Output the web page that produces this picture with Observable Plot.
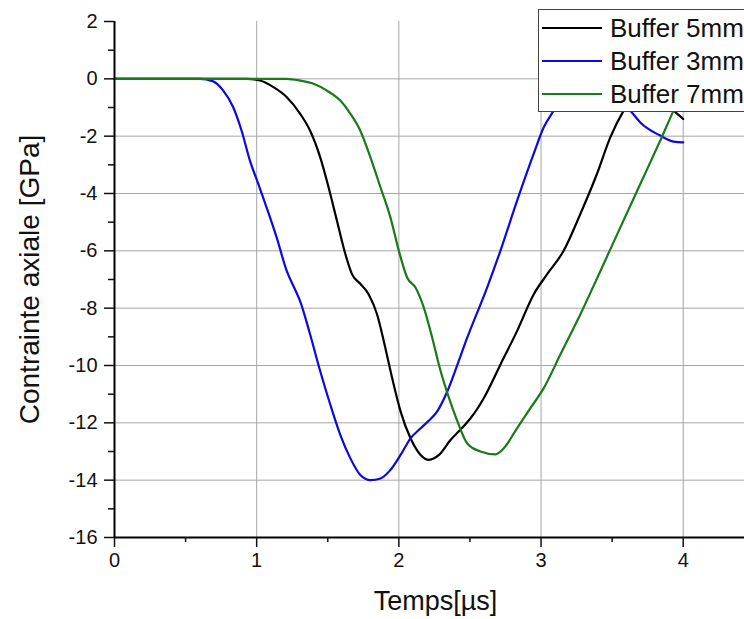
<!DOCTYPE html>
<html>
<head>
<meta charset="utf-8">
<script src="https://cdn.jsdelivr.net/npm/d3@7"></script>
<script src="https://cdn.jsdelivr.net/npm/@observablehq/plot@0.6"></script>
<style>
  html, body { margin: 0; padding: 0; background: white; overflow: hidden; }
  #wrap { position: relative; width: 744px; height: 619px; overflow: hidden; font-family: "Liberation Sans", Arial, sans-serif; }
  #legend { position: absolute; left: 538px; top: 9px; width: 260px; height: 103px; box-sizing: border-box; border: 1px solid #444; background: white; }
  .row { position: absolute; left: 0; height: 33px; display: flex; align-items: center; }
  .swatch { width: 60px; height: 2px; margin-left: 3px; }
  .lab { margin-left: 8px; font-size: 26px; color: #111; white-space: nowrap; }
</style>
</head>
<body>
<div id="wrap"></div>
<script>
// Tick values
const xTicks = [0, 1, 2, 3, 4];
const xMinor = [0.5, 1.5, 2.5, 3.5];
const yTicks = [-16, -14, -12, -10, -8, -6, -4, -2, 0, 2];
const yMinor = [-15, -13, -11, -9, -7, -5, -3, -1, 1];
const xGrid = [1, 2, 3, 4];
const yGrid = [-14, -12, -10, -8, -6, -4, -2, 0];

// Series names / colours
const seriesNames = ["Buffer 5mm", "Buffer 3mm", "Buffer 7mm"];
const seriesColors = ["#000000", "#0a0ae0", "#197a19"];

// Buffer 5mm (black)
const t5 = [0, 0.93, 1.024, 1.118, 1.212, 1.306, 1.376, 1.447, 1.506, 1.565, 1.624, 1.671, 1.729, 1.788, 1.847, 1.894, 1.953, 2.012, 2.082, 2.153, 2.212, 2.282, 2.363, 2.459, 2.504, 2.597, 2.714, 2.831, 2.948, 3.042, 3.159, 3.276, 3.393, 3.487, 3.581, 3.65, 3.75, 3.85, 3.932, 4.0];
const s5 = [0, 0, -0.06, -0.29, -0.64, -1.22, -1.81, -2.74, -3.79, -4.96, -6.12, -6.82, -7.15, -7.52, -8.22, -9.15, -10.44, -11.6, -12.54, -13.12, -13.29, -13.12, -12.6, -12.1, -11.84, -11.14, -9.97, -8.8, -7.52, -6.82, -6.0, -4.72, -3.32, -2.04, -1.11, -0.6, -0.55, -0.8, -1.11, -1.4];

// Buffer 3mm (blue)
const t3 = [0, 0.6, 0.69, 0.765, 0.835, 0.894, 0.953, 1.012, 1.07, 1.141, 1.212, 1.27, 1.306, 1.376, 1.447, 1.518, 1.588, 1.659, 1.729, 1.8, 1.871, 1.941, 2.012, 2.082, 2.153, 2.205, 2.27, 2.341, 2.412, 2.48, 2.62, 2.714, 2.831, 2.948, 3.019, 3.089, 3.2, 3.3, 3.42, 3.53, 3.628, 3.698, 3.838, 3.932, 4.0];
const s3 = [0, 0, -0.08, -0.41, -0.99, -1.81, -2.86, -3.67, -4.49, -5.54, -6.71, -7.35, -7.76, -8.92, -10.2, -11.37, -12.42, -13.24, -13.82, -14.0, -13.94, -13.64, -13.12, -12.54, -12.19, -11.95, -11.6, -10.9, -9.97, -9.04, -7.29, -6.0, -4.26, -2.62, -1.69, -1.11, -0.3, -0.05, -0.2, -0.65, -1.11, -1.52, -1.98, -2.19, -2.22];

// Buffer 7mm (green)
const t7 = [0, 1.21, 1.306, 1.4, 1.494, 1.588, 1.659, 1.729, 1.8, 1.871, 1.941, 2.0, 2.059, 2.118, 2.176, 2.235, 2.294, 2.353, 2.412, 2.48, 2.574, 2.679, 2.738, 2.831, 2.925, 3.019, 3.136, 3.276, 3.417, 3.557, 3.698, 3.838, 3.932, 4.0];
const s7 = [0, 0, -0.06, -0.17, -0.41, -0.76, -1.22, -1.81, -2.74, -3.79, -4.84, -6.0, -6.94, -7.29, -7.99, -9.04, -10.2, -11.14, -11.95, -12.71, -13.0, -13.1, -12.89, -12.19, -11.49, -10.79, -9.62, -8.22, -6.71, -5.19, -3.67, -2.16, -1.11, -0.4];

const toRows = (ts, ss) => ts.map((t, i) => ({t, s: ss[i]}));
const series = [toRows(t5, s5), toRows(t3, s3), toRows(t7, s7)];
const fmt = (d) => String(d);

const chart = Plot.plot({
  width: 744,
  height: 619,
  marginLeft: 114,
  marginRight: 0,
  marginTop: 21,
  marginBottom: 82,
  x: {domain: [0, 4.431]},
  y: {domain: [-16, 2]},
  style: {fontFamily: "'Liberation Sans', Arial, sans-serif", background: "white", color: "#111"},
  marks: [
    Plot.gridX(xGrid, {stroke: "#a6a6a6", strokeOpacity: 1, strokeWidth: 1}),
    Plot.gridY(yGrid, {stroke: "#a6a6a6", strokeOpacity: 1, strokeWidth: 1}),
    ...series.map((d, i) => Plot.line(d, {x: "t", y: "s", stroke: seriesColors[i], strokeWidth: 2.2, curve: "monotone-x"})),
    Plot.ruleX([0], {stroke: "#000", strokeWidth: 2}),
    Plot.ruleY([-16], {stroke: "#000", strokeWidth: 2}),
    Plot.axisY(yTicks, {tickSize: 10, tickPadding: 7, fontSize: 20, label: null, strokeWidth: 1.5, tickFormat: fmt}),
    Plot.axisY(yMinor, {tickSize: 6, tickFormat: () => "", label: null, strokeWidth: 1.5}),
    Plot.axisX(xTicks, {tickSize: 10, tickPadding: 5, fontSize: 20, label: null, strokeWidth: 1.5, tickFormat: fmt}),
    Plot.axisX(xMinor, {tickSize: 5, tickFormat: () => "", label: null, strokeWidth: 1.5}),
    Plot.text(["Contrainte axiale [GPa]"], {frameAnchor: "left", textAnchor: "middle", rotate: -90, dx: -84, fontSize: 28, fill: "#111"}),
    Plot.text(["Temps[µs]"], {frameAnchor: "bottom", textAnchor: "middle", dy: 72, dx: 6, fontSize: 27, fill: "#111"})
  ]
});

const wrap = document.getElementById("wrap");
wrap.appendChild(chart);

const legend = document.createElement("div");
legend.id = "legend";
seriesNames.forEach((name, i) => {
  const row = document.createElement("div");
  row.className = "row";
  row.style.top = (1.5 + i * 33) + "px";
  const sw = document.createElement("div");
  sw.className = "swatch";
  sw.style.background = seriesColors[i];
  const lab = document.createElement("span");
  lab.className = "lab";
  lab.textContent = name;
  row.appendChild(sw);
  row.appendChild(lab);
  legend.appendChild(row);
});
wrap.appendChild(legend);
</script>
</body>
</html>
